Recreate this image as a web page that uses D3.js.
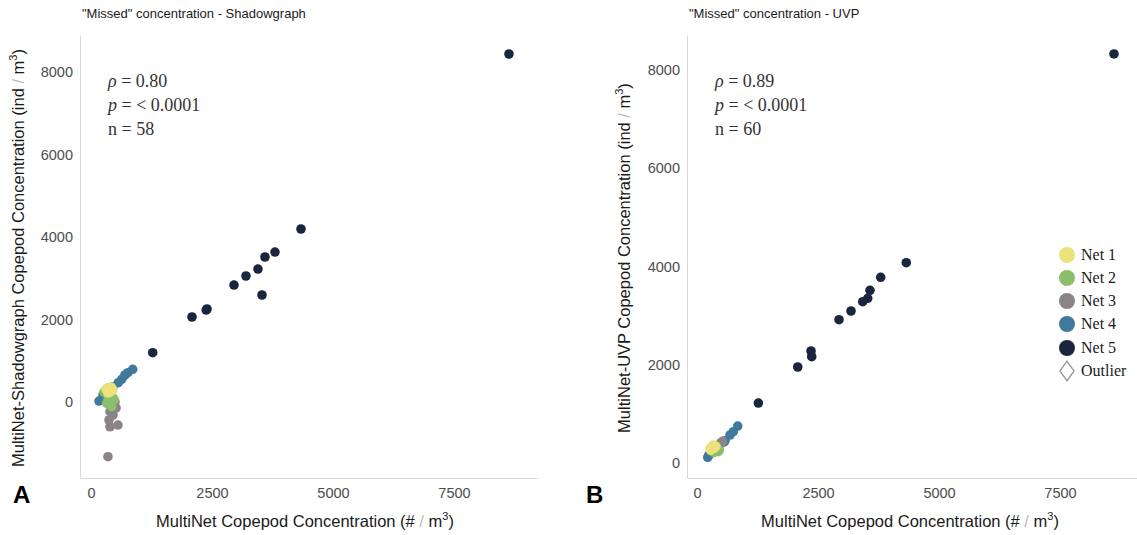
<!DOCTYPE html>
<html>
<head>
<meta charset="utf-8">
<style>
  body { margin: 0; background: #fff; }
  .tick text { fill: #4d4d4d; font-family: "Liberation Sans", Arial, sans-serif; font-size: 14.5px; }
  .domain { stroke: #d9d9d9; stroke-width: 1px; }
  .ttl { font-family: "Liberation Sans", Arial, sans-serif; font-size: 13px; fill: #1a1a1a; }
  .lab { font-family: "Liberation Sans", Arial, sans-serif; font-size: 16.5px; fill: #1a1a1a; }
  .ann { font-family: "Liberation Serif", "Times New Roman", serif; font-size: 18px; fill: #333; }
  .leg { font-family: "Liberation Serif", "Times New Roman", serif; font-size: 16px; fill: #1a1a1a; }
  .panel { font-family: "Liberation Sans", Arial, sans-serif; font-size: 24px; font-weight: bold; fill: #000; }
</style>
</head>
<body>
<div id="chart"></div>
<script src="https://d3js.org/d3.v7.min.js"></script>
<script>

// nets and colours
var nets = ["Net 1", "Net 2", "Net 3", "Net 4", "Net 5"];
var netColors = ["#ebe27a", "#8cbf6b", "#8a8488", "#3f7a9d", "#1a2640"];

// A: MultiNet vs Shadowgraph  [multinet, shadowgraph]
var shadowNet1 = [[455, 291], [351, 218], [413, 364], [310, 315], [393, 242], [430, 330]];
var shadowNet2 = [[351, 339], [393, 170], [428, -114], [324, -32], [269, 242], [455, 97], [351, 73], [480, 60]];
var shadowNet3 = [[496, 7], [455, -145], [393, -235], [455, -315], [393, -600], [558, -558], [351, -1326], [372, -436], [517, -145], [420, -80]];
var shadowNet4 = [[862, 793], [764, 710], [702, 655], [634, 550], [564, 468], [455, 371], [248, 170], [221, 48], [165, 24], [290, 242], [372, 315]];
var shadowNet5 = [[1275, 1195], [2087, 2061], [2397, 2255], [2380, 2230], [2955, 2836], [3202, 3055], [3450, 3224], [3595, 3515], [3802, 3636], [3533, 2594], [4339, 4194], [8636, 8436]];

// B: MultiNet vs UVP  [multinet, uvp]
var uvpNet1 = [[331, 366], [269, 299], [300, 330], [350, 300], [390, 340], [280, 260]];
var uvpNet2 = [[440, 230], [331, 265], [380, 250], [420, 300], [460, 260], [350, 210]];
var uvpNet3 = [[510, 413], [461, 366], [480, 390], [530, 440], [440, 340], [500, 420]];
var uvpNet4 = [[841, 753], [750, 637], [682, 570], [579, 454], [269, 197], [221, 116], [240, 150], [300, 250], [560, 430]];
var uvpNet5 = [[1267, 1221], [2081, 1954], [2355, 2280], [2370, 2164], [2934, 2917], [3182, 3094], [3424, 3283], [3527, 3353], [3574, 3516], [3795, 3780], [4324, 4077], [8616, 8326]];

var xTicks = [0, 2500, 5000, 7500];
var yTicks = [0, 2000, 4000, 6000, 8000];

var svg = d3.select("#chart").append("svg")
    .attr("width", 1137)
    .attr("height", 535);

function panel(opt) {
  var x = d3.scaleLinear().domain(opt.xDomain).range(opt.xRange);
  var y = d3.scaleLinear().domain(opt.yDomain).range([478, 35]);
  var g = svg.append("g");

  g.append("g")
      .attr("transform", "translate(0,478)")
      .call(d3.axisBottom(x).tickValues(xTicks).tickFormat(d3.format("d")).tickSize(0).tickPadding(10));
  g.append("g")
      .attr("transform", "translate(" + opt.xRange[0] + ",0)")
      .call(d3.axisLeft(y).tickValues(yTicks).tickFormat(d3.format("d")).tickSize(0).tickPadding(7));

  // points, dark net first
  var order = [4, 3, 2, 1, 0];
  order.forEach(function(i) {
    g.selectAll(null)
        .data(opt.series[i])
      .enter().append("circle")
        .attr("cx", function(d) { return x(d[0]); })
        .attr("cy", function(d) { return y(d[1]); })
        .attr("r", 4.8)
        .attr("fill", netColors[i]);
  });

  g.append("text").attr("class", "ttl")
      .attr("x", opt.xRange[0] + 2).attr("y", 18)
      .text(opt.title);

  // stats
  var ax = opt.xRange[0] + opt.annDx;
  var a1 = g.append("text").attr("class", "ann").attr("x", ax).attr("y", 87);
  a1.append("tspan").style("font-style", "italic").text("ρ");
  a1.append("tspan").text(" = " + opt.rho);
  var a2 = g.append("text").attr("class", "ann").attr("x", ax).attr("y", 111);
  a2.append("tspan").style("font-style", "italic").text("p");
  a2.append("tspan").text(" = < 0.0001");
  g.append("text").attr("class", "ann").attr("x", ax).attr("y", 135).text("n = " + opt.n);

  // y label
  var yl = g.append("text").attr("class", "lab")
      .attr("transform", "translate(" + opt.yLabX + "," + opt.yLabY + ") rotate(-90)")
      .attr("text-anchor", "middle");
  yl.append("tspan").text(opt.yLabel + " (ind ");
  yl.append("tspan").attr("fill", "#bbb").text("/");
  yl.append("tspan").text(" m");
  yl.append("tspan").attr("dy", -7).style("font-size", "11px").text("3");
  yl.append("tspan").attr("dy", 7).text(")");

  // x label
  var xl = g.append("text").attr("class", "lab")
      .attr("x", opt.xLabX).attr("y", 527)
      .attr("text-anchor", "middle");
  xl.append("tspan").text("MultiNet Copepod Concentration (# ");
  xl.append("tspan").attr("fill", "#bbb").text("/");
  xl.append("tspan").text(" m");
  xl.append("tspan").attr("dy", -7).style("font-size", "11px").text("3");
  xl.append("tspan").attr("dy", 7).text(")");

  g.append("text").attr("class", "panel")
      .attr("x", opt.letterX).attr("y", 503)
      .text(opt.letter);
}

panel({
  xDomain: [-227, 9236], xRange: [80, 538],
  yDomain: [-1842, 8897],
  series: [shadowNet1, shadowNet2, shadowNet3, shadowNet4, shadowNet5],
  title: "\"Missed\" concentration - Shadowgraph",
  rho: "0.80", n: 58, annDx: 28,
  yLabel: "MultiNet-Shadowgraph Copepod Concentration",
  yLabX: 24, yLabY: 258, xLabX: 305,
  letter: "A", letterX: 13
});

panel({
  xDomain: [-207, 9091], xRange: [687, 1137],
  yDomain: [-305, 8712],
  series: [uvpNet1, uvpNet2, uvpNet3, uvpNet4, uvpNet5],
  title: "\"Missed\" concentration - UVP",
  rho: "0.89", n: 60, annDx: 28,
  yLabel: "MultiNet-UVP Copepod Concentration",
  yLabX: 630, yLabY: 258, xLabX: 910,
  letter: "B", letterX: 586
});

// legend
var legY = [255, 278, 301, 324, 348];
var leg = svg.append("g");
nets.forEach(function(name, i) {
  leg.append("circle").attr("cx", 1067).attr("cy", legY[i]).attr("r", 8).attr("fill", netColors[i]);
  leg.append("text").attr("class", "leg").attr("x", 1081).attr("y", legY[i] + 5).text(name);
});
leg.append("path")
    .attr("d", d3.symbol().type(d3.symbolDiamond).size(110)())
    .attr("transform", "translate(1067,371) scale(1.25,1)")
    .attr("fill", "none").attr("stroke", "#999").attr("stroke-width", 1.2);
leg.append("text").attr("class", "leg").attr("x", 1081).attr("y", 376).text("Outlier");

</script>
</body>
</html>
